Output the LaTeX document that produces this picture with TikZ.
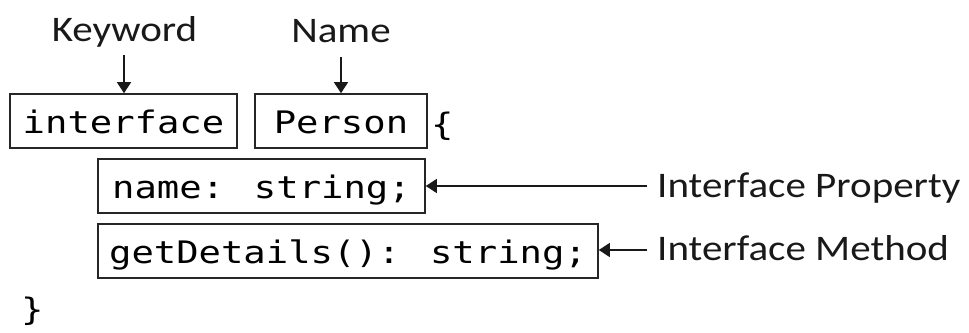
\documentclass[tikz,border=0pt]{standalone}
\usepackage{fontspec}
\setmainfont{Carlito}
\newfontfamily\codefont[FakeStretch=1.2]{DejaVu Sans Mono}
\newfontfamily\labfont[FakeStretch=1.14]{Carlito}
\usetikzlibrary{arrows.meta}
\begin{document}
\begin{tikzpicture}[x=1pt,y=-1pt,
  codebox/.style={draw=black!85,line width=1.6pt,inner sep=0pt,
    minimum height=54pt,text height=39pt,text depth=15pt,
    font=\codefont\fontsize{31}{36}\selectfont},
  codetext/.style={inner sep=0pt,font=\codefont\fontsize{31}{36}\selectfont},
  lab/.style={inner sep=0pt,font=\labfont\fontsize{36}{40}\selectfont,text=black!90},
  arr/.style={line width=1.4pt,draw=black!90,-{Triangle[length=11pt,width=14pt]}}]
\useasboundingbox (0,0) rectangle (969,332);
% boxes
\node[codebox,minimum width=227pt] (kw) at (123.5,121) {interface};
\node[codebox,minimum width=172pt] (nm) at (341,121) {Person};
\node[codebox,minimum width=327pt] (prop) at (261.5,186) {name: string;};
\node[codebox,minimum width=500pt] (meth) at (348,251) {getDetails(): string;};
% braces
\node[codetext,anchor=base west] (ob) at (431,135) {\{};
\node[codetext,anchor=base west] (cb) at (21,320) {\}};
% labels
\node[lab,anchor=base] (kwlab) at (124.5,41) {Keyword};
\node[lab,anchor=base] (nmlab) at (341,42) {Name};
\node[lab,anchor=base west] (proplab) at (657,197) {Interface Property};
\node[lab,anchor=base west] (methlab) at (657,260) {Interface Method};
% connector tails
\coordinate (kwtail) at (124,55);
\coordinate (nmtail) at (341,57);
\coordinate (proptail) at (647,186);
\coordinate (methtail) at (647,250);
% arrows
\draw[arr] (kwtail) -- (kwtail |- kw.north);
\draw[arr] (nmtail) -- (nmtail |- nm.north);
\draw[arr] (proptail) -- (prop.east |- proptail);
\draw[arr] (methtail) -- (meth.east |- methtail);
\end{tikzpicture}
\end{document}
